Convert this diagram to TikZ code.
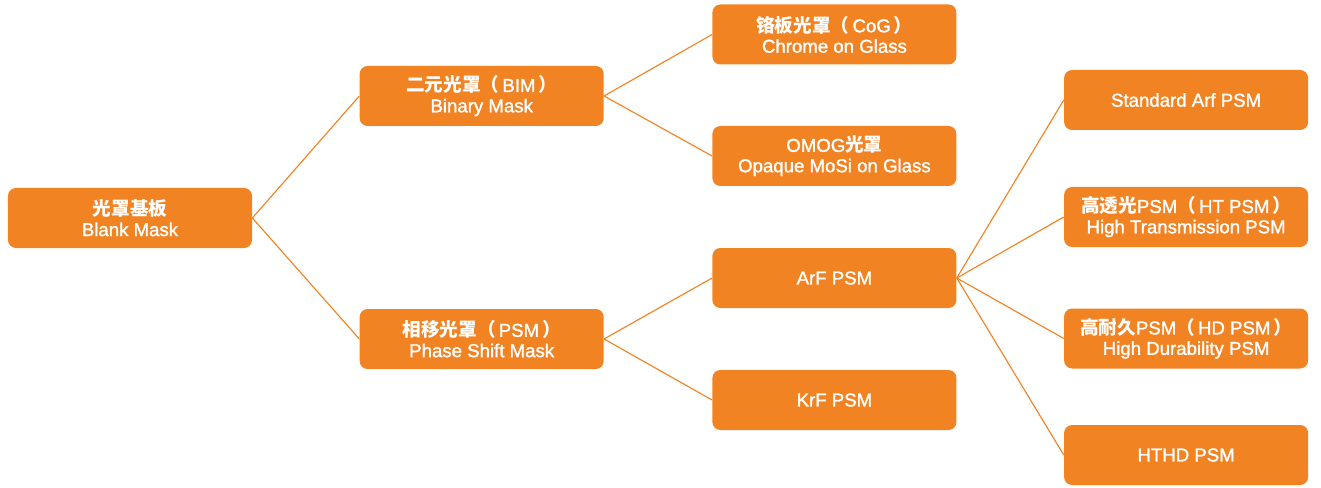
\documentclass[tikz,border=0pt]{standalone}
\usepackage{fontspec}
\setmainfont{Liberation Sans}[FakeBold=1.5, BoldFont=*, BoldFeatures={FakeBold=1.5}]
\newfontfamily\cjk{Noto Sans CJK SC}
\usetikzlibrary{positioning}

\definecolor{maskorange}{RGB}{242,131,34}
\newcommand{\zh}[1]{{\cjk\bfseries #1}}
\newcommand{\lp}{\zh{（}\,}
\newcommand{\rp}{\,\zh{）}}

\begin{document}
\begin{tikzpicture}[node distance=2.14cm,
  every node/.style={fill=maskorange, text=white, rounded corners=4.5pt, minimum width=4.88cm, minimum height=1.2cm, align=center, inner sep=0pt, font=\fontsize{10.6}{11.6}\selectfont\bfseries},
  link/.style={draw=maskorange, line width=0.65pt}]
  \useasboundingbox (-2.6,-5.4) rectangle (23.82,4.36);

  % root and first level
  \node (blank) at (0,0) {\zh{光罩基板}\\Blank Mask};
  \node[right=of blank, yshift=2.44cm] (bim) {\zh{二元光罩}\lp BIM\rp\\Binary Mask};
  \node[right=of blank, yshift=-2.42cm] (psm) {\zh{相移光罩}\lp PSM\rp\\Phase Shift Mask};

  % second level
  \node[right=2.16cm of bim, yshift=1.23cm] (cog) {\zh{铬板光罩}\lp CoG\rp\\Chrome on Glass};
  \node[right=2.16cm of bim, yshift=-1.2cm] (omog) {OMOG\zh{光罩}\\Opaque MoSi on Glass};
  \node[right=2.16cm of psm, yshift=1.22cm] (arf) {ArF PSM};
  \node[right=2.16cm of psm, yshift=-1.22cm] (krf) {KrF PSM};

  % ArF branches
  \node[right=of arf, yshift=3.56cm] (std) {Standard Arf PSM};
  \node[right=of arf, yshift=1.22cm] (ht) {\zh{高透光}PSM\lp HT PSM\rp\\High Transmission PSM};
  \node[right=of arf, yshift=-1.21cm] (hd) {\zh{高耐久}PSM\lp HD PSM\rp\\High Durability PSM};
  \node[right=of arf, yshift=-3.54cm] (hthd) {HTHD PSM};

  \draw[link] (blank.east) -- (bim.west);
  \draw[link] (blank.east) -- (psm.west);
  \draw[link] (bim.east) -- (cog.west);
  \draw[link] (bim.east) -- (omog.west);
  \draw[link] (psm.east) -- (arf.west);
  \draw[link] (psm.east) -- (krf.west);
  \draw[link] (arf.east) -- (std.west);
  \draw[link] (arf.east) -- (ht.west);
  \draw[link] (arf.east) -- (hd.west);
  \draw[link] (arf.east) -- (hthd.west);
\end{tikzpicture}
\end{document}
